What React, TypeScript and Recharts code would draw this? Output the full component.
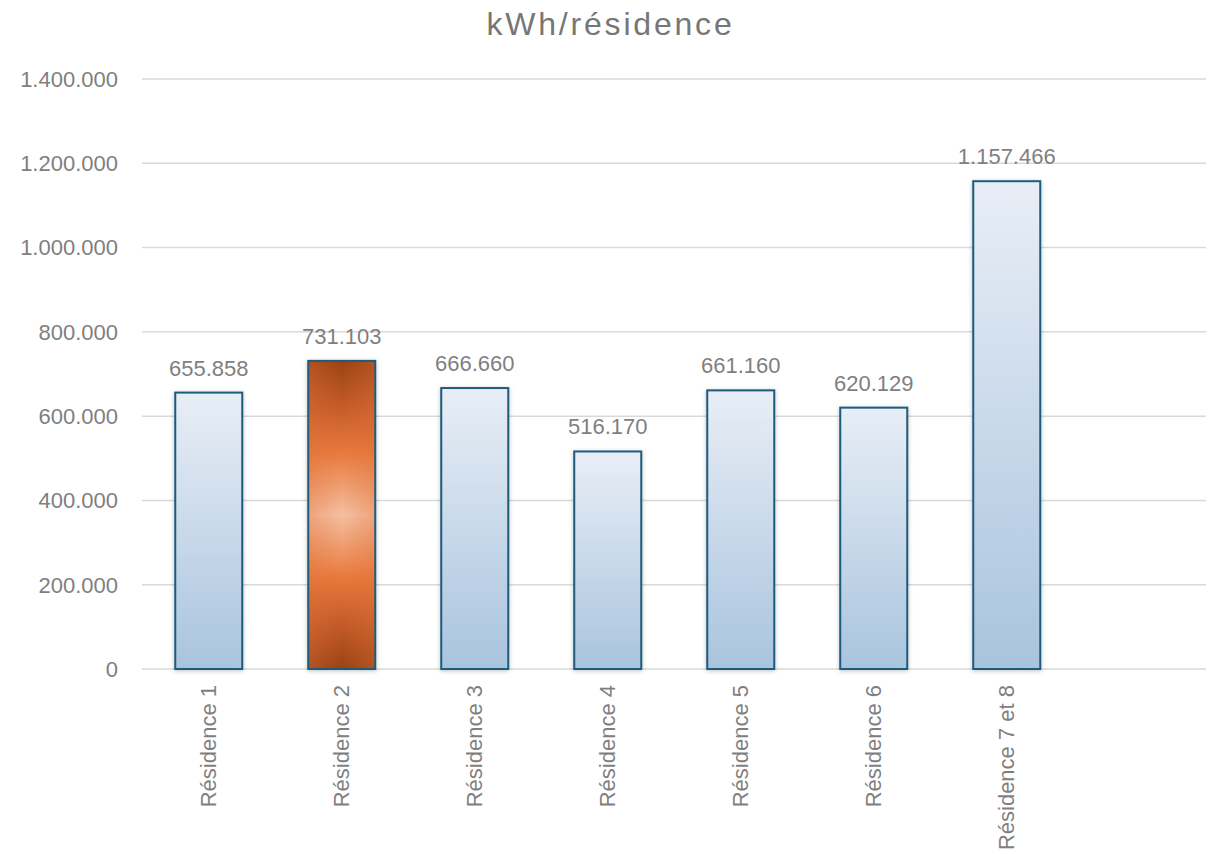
import { Bar, BarChart, CartesianGrid, Cell, LabelList, XAxis, YAxis } from "recharts";

const categories = [
  "Résidence 1",
  "Résidence 2",
  "Résidence 3",
  "Résidence 4",
  "Résidence 5",
  "Résidence 6",
  "Résidence 7 et 8",
  "",
];
const kwhValues: (number | null)[] = [655858, 731103, 666660, 516170, 661160, 620129, 1157466, null];
const yTicks = [0, 200000, 400000, 600000, 800000, 1000000, 1200000, 1400000];
const highlighted = "Résidence 2";

const data = categories.map((name, i) => ({ name, value: kwhValues[i] }));

const FONT = "'Liberation Sans', Arial, sans-serif";
const GREY = "#7f7f7f";

// 1400000 -> "1.400.000"
const fmt = (v: unknown) => {
  if (v === null || v === undefined || v === "") return "";
  return String(Math.round(Number(v))).replace(/\B(?=(\d{3})+(?!\d))/g, ".");
};

function XTick({ x, y, payload }: any) {
  return (
    <text
      x={x}
      y={y}
      transform={`rotate(-90 ${x} ${y})`}
      textAnchor="end"
      dominantBaseline="central"
      fill={GREY}
      fontSize={22}
      fontFamily={FONT}
    >
      {payload.value}
    </text>
  );
}

function BarShape(props: any) {
  const { x, y, width, height, fill, payload } = props;
  if (!height || height <= 0) return null;
  const hot = payload && payload.name === highlighted;
  return (
    <g style={{ filter: "drop-shadow(0px 1px 2px rgba(0,0,0,0.25))" }}>
      <rect x={x} y={y} width={width} height={height} fill={fill} />
      {hot && <rect x={x} y={y} width={width} height={height} fill="url(#orangeSides)" />}
      <rect x={x} y={y} width={width} height={height} fill="none" stroke="#1d5c7d" strokeWidth={2} />
    </g>
  );
}

export default function App() {
  return (
    <div style={{ position: "absolute", left: 0, top: 0, width: 1221, height: 854, background: "#fff" }}>
      <svg width={0} height={0} style={{ position: "absolute" }}>
        <defs>
          <linearGradient id="blueFill" x1="0" y1="0" x2="0" y2="1">
            <stop offset="0%" stopColor="#e8eef6" />
            <stop offset="100%" stopColor="#a9c4de" />
          </linearGradient>
          <linearGradient id="orangeFill" x1="0" y1="0" x2="0" y2="1">
            <stop offset="0%" stopColor="#9a4214" />
            <stop offset="15%" stopColor="#c45c29" />
            <stop offset="30%" stopColor="#e97a3d" />
            <stop offset="50%" stopColor="#f4c0a2" />
            <stop offset="70%" stopColor="#e97a3d" />
            <stop offset="85%" stopColor="#c45c29" />
            <stop offset="100%" stopColor="#9a4214" />
          </linearGradient>
          <linearGradient id="orangeSides" x1="0" y1="0" x2="1" y2="0">
            <stop offset="0%" stopColor="#e07038" stopOpacity={0.35} />
            <stop offset="50%" stopColor="#e07038" stopOpacity={0} />
            <stop offset="100%" stopColor="#e07038" stopOpacity={0.35} />
          </linearGradient>
        </defs>
      </svg>
      <div
        style={{
          position: "absolute",
          top: 3,
          left: 0,
          width: 1221,
          textAlign: "center",
          fontFamily: FONT,
          fontSize: 32,
          letterSpacing: 2.8,
          color: "#767676",
          lineHeight: "42px",
        }}
      >
        kWh/résidence
      </div>
      <BarChart
        width={1221}
        height={854}
        data={data}
        margin={{ top: 79, right: 15, bottom: 0, left: 0 }}
        barCategoryGap="25%"
      >
        <CartesianGrid vertical={false} stroke="#d9d9d9" strokeWidth={1.5} />
        <XAxis
          dataKey="name"
          height={185}
          axisLine={false}
          tickLine={false}
          tickSize={0}
          tickMargin={16}
          interval={0}
          tick={<XTick />}
        />
        <YAxis
          width={142}
          domain={[0, 1400000]}
          ticks={yTicks}
          axisLine={false}
          tickLine={false}
          tickSize={0}
          tickMargin={24}
          tickFormatter={fmt}
          tick={{ fill: GREY, fontSize: 22, fontFamily: FONT }}
        />
        <Bar dataKey="value" isAnimationActive={false} shape={<BarShape />}>
          {data.map((d) => (
            <Cell key={d.name || "empty"} fill={d.name === highlighted ? "url(#orangeFill)" : "url(#blueFill)"} />
          ))}
          <LabelList
            dataKey="value"
            position="top"
            offset={17}
            formatter={fmt}
            fill={GREY}
            fontSize={22}
            fontFamily={FONT}
          />
        </Bar>
      </BarChart>
    </div>
  );
}
